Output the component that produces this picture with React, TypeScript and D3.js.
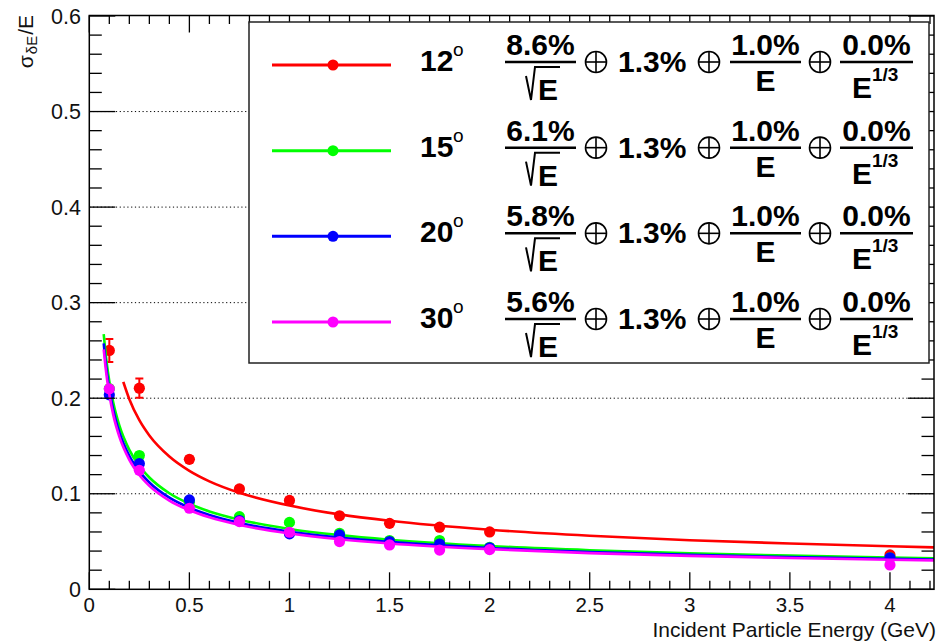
import React from 'react';
import * as d3 from 'd3';

// ---- data ----
const energies = [0.1, 0.25, 0.5, 0.75, 1.0, 1.25, 1.5, 1.75, 2.0, 4.0];
const res12 = [0.250, 0.2105, 0.136, 0.105, 0.093, 0.077, 0.069, 0.065, 0.060, 0.036];
const err12 = [0.012, 0.010, 0.003, 0.003, 0.003, 0.002, 0.002, 0.002, 0.002, 0.002];
const res15 = [0.210, 0.140, 0.091, 0.076, 0.070, 0.0586, 0.051, 0.051, 0.044, 0.033];
const res20 = [0.2035, 0.1315, 0.0935, 0.072, 0.058, 0.057, 0.050, 0.0474, 0.0435, 0.033];
const res30 = [0.2098, 0.1245, 0.0848, 0.0708, 0.0597, 0.050, 0.0464, 0.041, 0.0415, 0.0255];
const errSmall = [0.003, 0.003, 0.002, 0.002, 0.002, 0.002, 0.002, 0.002, 0.002, 0.002];

// fit curves
const fitE12 = [0.17, 0.2, 0.25, 0.3, 0.4, 0.5, 0.6, 0.75, 1, 1.25, 1.5, 2, 2.5, 3, 3.5, 4, 4.22];
const fit12 = [0.217, 0.199, 0.177, 0.161, 0.139, 0.124, 0.113, 0.101, 0.0876, 0.0784, 0.0717, 0.0624, 0.0561, 0.0514, 0.0479, 0.0450, 0.0439];
const fitE = [0.072, 0.08, 0.09, 0.1, 0.12, 0.15, 0.2, 0.25, 0.3, 0.4, 0.5, 0.6, 0.75, 1, 1.25, 1.5, 2, 2.5, 3, 3.5, 4, 4.22];
const fit15 = [0.267, 0.2496, 0.2321, 0.2177, 0.1952, 0.1715, 0.1459, 0.1290, 0.1170, 0.1005, 0.0895, 0.0815, 0.0729, 0.0632, 0.0567, 0.0519, 0.0453, 0.0409, 0.0377, 0.0352, 0.0332, 0.0325];
const fit20 = [0.2573, 0.2405, 0.2234, 0.2093, 0.1875, 0.1644, 0.1396, 0.1234, 0.1118, 0.0959, 0.0854, 0.0778, 0.0695, 0.0603, 0.0541, 0.0496, 0.0433, 0.0391, 0.0361, 0.0337, 0.0319, 0.0312];
const fit30 = [0.2510, 0.2345, 0.2176, 0.2038, 0.1823, 0.1598, 0.1355, 0.1196, 0.1083, 0.0929, 0.0827, 0.0753, 0.0673, 0.0584, 0.0524, 0.0480, 0.0420, 0.0379, 0.0350, 0.0328, 0.0310, 0.0303];

const angles = ['12', '15', '20', '30'];
const stochTerms = ['8.6%', '6.1%', '5.8%', '5.6%'];
const constTerms = ['1.3%', '1.3%', '1.3%', '1.3%'];
const noiseTerms = ['1.0%', '1.0%', '1.0%', '1.0%'];
const cubeTerms = ['0.0%', '0.0%', '0.0%', '0.0%'];
const colors = ['#ff0000', '#00ff00', '#0000ff', '#ff00ff'];

const xTicks = [0, 0.5, 1, 1.5, 2, 2.5, 3, 3.5, 4];
const xTickLabels = ['0', '0.5', '1', '1.5', '2', '2.5', '3', '3.5', '4'];
const yTicks = [0, 0.1, 0.2, 0.3, 0.4, 0.5, 0.6];
const yTickLabels = ['0', '0.1', '0.2', '0.3', '0.4', '0.5', '0.6'];
const gridY = [0.1, 0.2, 0.3, 0.4, 0.5];
const xTitle = 'Incident Particle Energy (GeV)';

const W = 938, H = 643;
const FL = 89.3, FR = 934, FT = 15.5, FB = 589.3;
const FONT = "'Liberation Sans', Arial, Helvetica, sans-serif";

const series = [
  { vals: res12, errs: err12, fx: fitE12, fy: fit12 },
  { vals: res15, errs: errSmall, fx: fitE, fy: fit15 },
  { vals: res20, errs: errSmall, fx: fitE, fy: fit20 },
  { vals: res30, errs: errSmall, fx: fitE, fy: fit30 },
];

function OPlus({ cx, cy }: { cx: number; cy: number }) {
  const r = 10.5;
  return (
    <g stroke="#000" strokeWidth={1.6} fill="none">
      <circle cx={cx} cy={cy} r={r} />
      <line x1={cx - r} x2={cx + r} y1={cy} y2={cy} />
      <line x1={cx} x2={cx} y1={cy - r} y2={cy + r} />
    </g>
  );
}

function LegendRow({ i, y0 }: { i: number; y0: number }) {
  const c = colors[i];
  const bold = { fontFamily: FONT, fontWeight: 700, fontSize: 30, fill: '#000' } as any;
  return (
    <g>
      <line x1={272} x2={391} y1={y0} y2={y0} stroke={c} strokeWidth={3} />
      <circle cx={333} cy={y0} r={5.5} fill={c} />
      <text x={420} y={y0 + 6} {...bold}>{angles[i]}</text>
      <text x={453} y={y0 - 9} fontFamily={FONT} fontSize={19} fill="#000">o</text>
      {/* stochastic term */}
      <text x={540.5} y={y0 - 10} textAnchor="middle" {...bold}>{stochTerms[i]}</text>
      <line x1={505} x2={576} y1={y0 - 3} y2={y0 - 3} stroke="#000" strokeWidth={2.5} />
      <path d={`M526,${y0 + 11} L531,${y0 + 35} L535,${y0 + 2} L560,${y0 + 2}`} stroke="#000" strokeWidth={2} fill="none" />
      <text x={538} y={y0 + 35} {...bold}>E</text>
      <OPlus cx={596} cy={y0 - 3} />
      <text x={618} y={y0 + 7} {...bold}>{constTerms[i]}</text>
      <OPlus cx={709} cy={y0 - 3} />
      <text x={765.5} y={y0 - 10} textAnchor="middle" {...bold}>{noiseTerms[i]}</text>
      <line x1={730} x2={801} y1={y0 - 3} y2={y0 - 3} stroke="#000" strokeWidth={2.5} />
      <text x={765.5} y={y0 + 26} textAnchor="middle" {...bold}>E</text>
      <OPlus cx={820} cy={y0 - 3} />
      <text x={876.5} y={y0 - 10} textAnchor="middle" {...bold}>{cubeTerms[i]}</text>
      <line x1={840} x2={913} y1={y0 - 3} y2={y0 - 3} stroke="#000" strokeWidth={2.5} />
      <text x={852} y={y0 + 33} {...bold}>E</text>
      <text x={872} y={y0 + 16} {...bold} fontSize={19}>1/3</text>
    </g>
  );
}

export default function App() {
  const x = d3.scaleLinear().domain([0, 4.22]).range([FL, FR]);
  const y = d3.scaleLinear().domain([0, 0.6]).range([FB, 16]);
  const line = d3.line<[number, number]>()
    .x(d => x(d[0]))
    .y(d => y(d[1]))
    .curve(d3.curveMonotoneX);

  const xMinor = d3.range(0, 4.22, 0.1).filter(v => Math.abs(v * 2 - Math.round(v * 2)) > 1e-6);
  const yMinor = d3.range(0, 0.6001, 0.02).filter(v => Math.abs(v * 10 - Math.round(v * 10)) > 1e-6);

  const rowY = angles.map((_, i) => 65 + i * 85.67);

  return (
    <svg width={W} height={H} style={{ position: 'absolute', left: 0, top: 0, background: '#fff' }}>
      <rect x={0} y={0} width={W} height={H} fill="#fff" />
      <defs>
        <clipPath id="frameClip">
          <rect x={FL} y={FT} width={FR - FL} height={FB - FT} />
        </clipPath>
      </defs>
      {/* grid */}
      {gridY.map(v => (
        <line key={v} x1={FL} x2={FR} y1={y(v)} y2={y(v)} stroke="#000" strokeWidth={1} strokeDasharray="1.2 2.6" />
      ))}
      {/* data */}
      <g clipPath="url(#frameClip)">
        {series.map((s, si) => {
          const pts = s.fx.map((e, k) => [e, s.fy[k]] as [number, number]);
          return (
            <g key={si}>
              <path d={line(pts) || ''} fill="none" stroke={colors[si]} strokeWidth={2.6} />
              {energies.map((e, k) => {
                const v = s.vals[k];
                const er = s.errs[k];
                const cx = x(e);
                return (
                  <g key={k}>
                    <line x1={cx} x2={cx} y1={y(v + er)} y2={y(v - er)} stroke={colors[si]} strokeWidth={2} />
                    <line x1={cx - 4} x2={cx + 4} y1={y(v + er)} y2={y(v + er)} stroke={colors[si]} strokeWidth={2} />
                    <line x1={cx - 4} x2={cx + 4} y1={y(v - er)} y2={y(v - er)} stroke={colors[si]} strokeWidth={2} />
                    <circle cx={cx} cy={y(v)} r={5.6} fill={colors[si]} />
                  </g>
                );
              })}
            </g>
          );
        })}
      </g>
      {/* frame and ticks */}
      <g stroke="#000" strokeWidth={1.3}>
        <rect x={FL} y={FT} width={FR - FL} height={FB - FT} fill="none" strokeWidth={1.5} />
        {xTicks.map(v => (
          <g key={'xt' + v}>
            <line x1={x(v)} x2={x(v)} y1={FB} y2={FB - 17} />
            <line x1={x(v)} x2={x(v)} y1={FT} y2={FT + 17} />
          </g>
        ))}
        {xMinor.map(v => (
          <g key={'xm' + v}>
            <line x1={x(v)} x2={x(v)} y1={FB} y2={FB - 8.5} />
            <line x1={x(v)} x2={x(v)} y1={FT} y2={FT + 8.5} />
          </g>
        ))}
        {yTicks.map(v => (
          <g key={'yt' + v}>
            <line x1={FL} x2={FL + 26} y1={y(v)} y2={y(v)} />
            <line x1={FR} x2={FR - 26} y1={y(v)} y2={y(v)} />
          </g>
        ))}
        {yMinor.map(v => (
          <g key={'ym' + v}>
            <line x1={FL} x2={FL + 12.5} y1={y(v)} y2={y(v)} />
            <line x1={FR} x2={FR - 12.5} y1={y(v)} y2={y(v)} />
          </g>
        ))}
      </g>
      {/* tick labels */}
      {xTicks.map((v, i) => (
        <text key={'xl' + v} x={x(v)} y={612} textAnchor="middle" fontFamily={FONT} fontSize={20.5} fill="#111">{xTickLabels[i]}</text>
      ))}
      {yTicks.map((v, i) => (
        <text key={'yl' + v} x={81} y={y(v) + 7.5} textAnchor="end" fontFamily={FONT} fontSize={21.5} fill="#111">{yTickLabels[i]}</text>
      ))}
      {/* axis titles */}
      <text x={936} y={637} textAnchor="end" fontFamily={FONT} fontSize={21} fill="#111">{xTitle}</text>
      <text transform="translate(33,15) rotate(-90)" textAnchor="end" fontFamily={FONT} fontSize={21} fill="#111">
        σ<tspan fontSize={15} dy={4} dx={1}>δE</tspan><tspan dy={-4} dx={1}>/E</tspan>
      </text>
      {/* legend */}
      <rect x={249} y={22} width={680} height={341} fill="#fff" stroke="#222" strokeWidth={1.5} />
      {angles.map((_, i) => (
        <LegendRow key={i} i={i} y0={rowY[i]} />
      ))}
    </svg>
  );
}
